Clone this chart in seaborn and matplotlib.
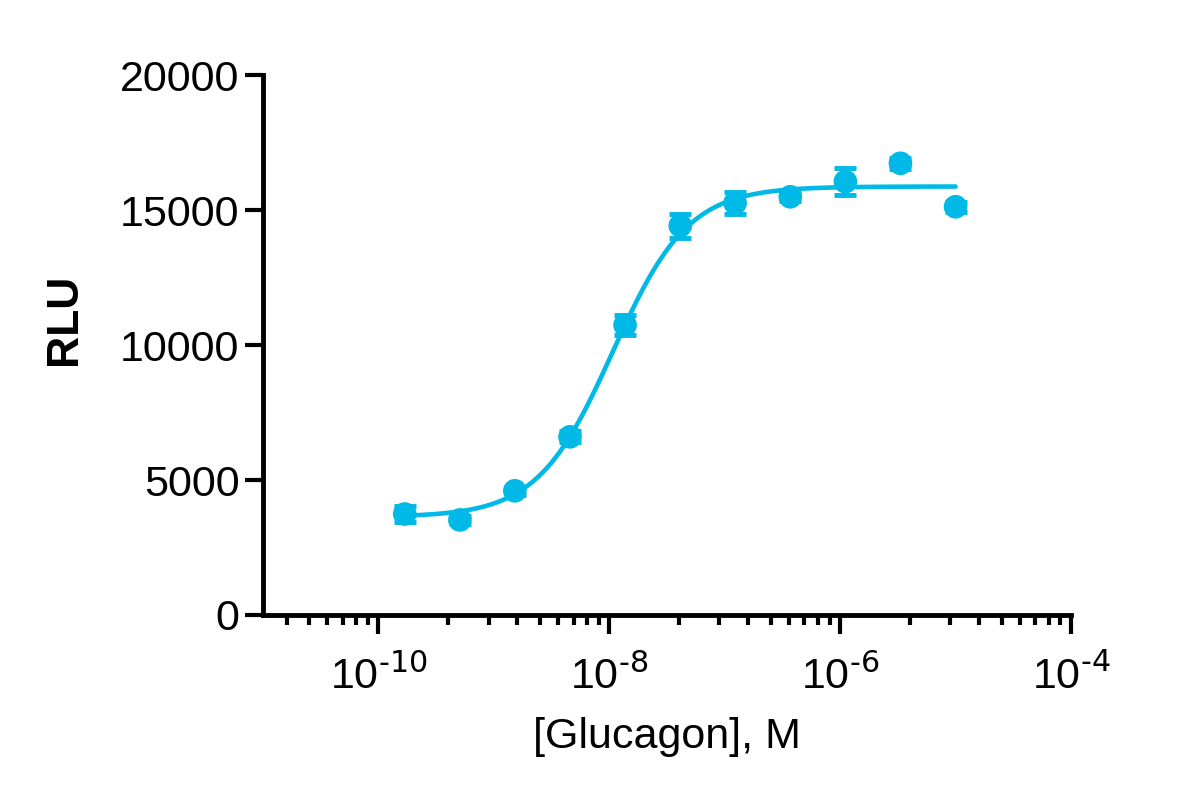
import matplotlib
matplotlib.use("Agg")
import matplotlib.pyplot as plt
import matplotlib.ticker as mticker
import numpy as np
import pandas as pd
import seaborn as sns

# data
conc = [1.69e-10, 5.08e-10, 1.52e-9, 4.57e-9, 1.37e-8, 4.12e-8,
        1.23e-7, 3.70e-7, 1.11e-6, 3.33e-6, 1.0e-5]
rlu = [3740, 3520, 4600, 6600, 10740, 14420, 15260, 15490, 16050, 16730, 15120]
rlu_err = [280, 150, 150, 200, 370, 450, 420, 150, 500, 200, 180]

# four parameter fit (estimated from the drawn curve)
fit_bottom = 3630
fit_top = 15870
fit_logec50 = -7.97
fit_hill = 1.33

x_ticks = [1e-10, 1e-8, 1e-6, 1e-4]
x_ticklabels = [r"10$^{\text{-10}}$", r"10$^{\text{-8}}$", r"10$^{\text{-6}}$", r"10$^{\text{-4}}$"]
y_ticks = [0, 5000, 10000, 15000, 20000]

color = "#00B9E6"

sns.set_theme(style="ticks")
plt.rcParams["font.family"] = ["Liberation Sans", "DejaVu Sans"]
plt.rcParams["mathtext.default"] = "regular"
plt.rcParams["text.color"] = "black"
plt.rcParams["axes.labelcolor"] = "black"

df = pd.DataFrame({"conc": conc, "rlu": rlu, "err": rlu_err})

logx = np.linspace(np.log10(conc[0]), np.log10(conc[-1]), 300)
curve = pd.DataFrame({
    "conc": 10 ** logx,
    "rlu": fit_bottom + (fit_top - fit_bottom) / (1 + 10 ** ((fit_logec50 - logx) * fit_hill)),
})

fig = plt.figure(figsize=(12, 7.95), dpi=100)
ax = fig.add_axes([263 / 1200, 1 - 615 / 795, (1071 - 263) / 1200, 540 / 795])

sns.lineplot(data=curve, x="conc", y="rlu", color=color, linewidth=3.3, ax=ax)
ax.errorbar(df["conc"], df["rlu"], yerr=df["err"], fmt="none", ecolor=color,
            elinewidth=3, capsize=8, capthick=3.5, zorder=3)
sns.scatterplot(data=df, x="conc", y="rlu", color=color, s=290, edgecolor="none",
                ax=ax, zorder=4)

ax.set_xscale("log")
ax.set_xlim(1e-11, 1e-4)
ax.set_ylim(0, 20000)

ax.xaxis.set_major_locator(mticker.FixedLocator(x_ticks))
ax.xaxis.set_major_formatter(mticker.FixedFormatter(x_ticklabels))
# minor ticks as in the source program: k^2 steps between majors
minors = [10.0 ** e * k ** 2 for e in (-12, -10, -8, -6) for k in range(2, 10)]
minors = [m for m in minors if 1e-11 < m < 1e-4]
ax.xaxis.set_minor_locator(mticker.FixedLocator(minors))
ax.xaxis.set_minor_formatter(mticker.NullFormatter())
ax.set_yticks(y_ticks)
ax.yaxis.set_minor_locator(mticker.NullLocator())

for side in ["top", "right"]:
    ax.spines[side].set_visible(False)
for side in ["left", "bottom"]:
    ax.spines[side].set_linewidth(3.5)
    ax.spines[side].set_color("black")

ax.tick_params(axis="both", which="major", direction="out", width=3, colors="black",
               labelsize=31, length=14)
ax.tick_params(axis="x", which="major", pad=15)
ax.tick_params(axis="y", which="major", length=13, pad=4)
ax.tick_params(axis="x", which="minor", direction="out", width=3, length=7, colors="black")

ax.set_xlabel("[Glucagon], M", fontsize=31, labelpad=14, color="black")
ax.set_ylabel("RLU", fontsize=32, fontweight="bold", color="black")
ax.yaxis.set_label_coords(-0.22, 0.548)
ax.grid(False)

fig.savefig("out.png", dpi=100)
